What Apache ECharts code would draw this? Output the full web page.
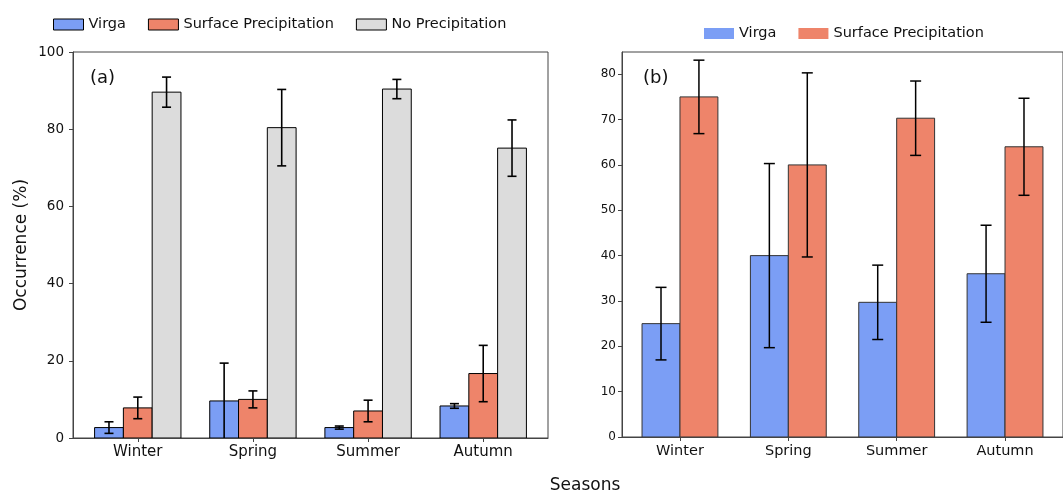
<!DOCTYPE html>
<html>
<head>
<meta charset="utf-8">
<script src="https://cdn.jsdelivr.net/npm/echarts@6/dist/echarts.min.js"></script>
<style>
  html, body { margin: 0; padding: 0; background: #fff; }
  #chart { width: 1063px; height: 493px; }
</style>
</head>
<body>
<div id="chart"></div>
<script>
// Seasonal occurrence of virga / surface precipitation
const seasons = ['Winter', 'Spring', 'Summer', 'Autumn'];

// Panel (a): share of all cloud cases (%)
const aVirga = [2.7, 9.6, 2.7, 8.3];
const aVirgaErr = [1.5, 9.8, 0.4, 0.6];
const aSurface = [7.8, 10.0, 7.0, 16.7];
const aSurfaceErr = [2.8, 2.2, 2.8, 7.3];
const aNone = [89.6, 80.4, 90.4, 75.1];
const aNoneErr = [3.9, 9.9, 2.5, 7.3];
const aTicks = [0, 20, 40, 60, 80, 100];

// Panel (b): share of precipitating cases (%)
const bVirga = [25.0, 40.0, 29.7, 36.0];
const bVirgaErr = [8.0, 20.3, 8.2, 10.7];
const bSurface = [75.0, 60.0, 70.3, 64.0];
const bSurfaceErr = [8.1, 20.3, 8.2, 10.7];
const bTicks = [0, 10, 20, 30, 40, 50, 60, 70, 80];

const C_VIRGA = '#7b9ef5';
const C_SURF = '#ee846a';
const C_NONE = '#dcdcdc';
const FONT = 'DejaVu Sans';

const catIdx = seasons.map((_, i) => i);

function barSeries(name, axis, values, offset, width, color, edge) {
  return {
    type: 'custom', name: name, xAxisIndex: axis, yAxisIndex: axis,
    clip: true, z: 2,
    itemStyle: { color: color },
    data: values.map((v, i) => [i + offset, v]),
    renderItem: function (params, api) {
      const x = api.value(0), y = api.value(1);
      const p0 = api.coord([x - width / 2, 0]);
      const p1 = api.coord([x + width / 2, y]);
      return {
        type: 'rect',
        shape: { x: p0[0], y: p1[1], width: p1[0] - p0[0], height: p0[1] - p1[1] },
        style: { fill: color, stroke: edge, lineWidth: 1 }
      };
    }
  };
}

function errSeries(axis, values, errs, offset, cap, lw) {
  return {
    type: 'custom', xAxisIndex: axis, yAxisIndex: axis,
    clip: true, z: 5, silent: true,
    data: values.map((v, i) => [i + offset, v - errs[i], v + errs[i]]),
    renderItem: function (params, api) {
      const x = api.value(0);
      const lo = api.coord([x, api.value(1)]);
      const hi = api.coord([x, api.value(2)]);
      const st = { stroke: '#000', lineWidth: lw };
      return {
        type: 'group',
        children: [
          { type: 'line', shape: { x1: lo[0], y1: lo[1], x2: hi[0], y2: hi[1] }, style: st },
          { type: 'line', shape: { x1: hi[0] - cap, y1: hi[1], x2: hi[0] + cap, y2: hi[1] }, style: st },
          { type: 'line', shape: { x1: lo[0] - cap, y1: lo[1], x2: lo[0] + cap, y2: lo[1] }, style: st }
        ]
      };
    }
  };
}

function xAxisDef(idx, min, max, fs) {
  return {
    type: 'value', gridIndex: idx, min: min, max: max,
    splitLine: { show: false },
    axisLine: { show: true, onZero: false, lineStyle: { color: '#444', width: 1 } },
    axisTick: { show: true, customValues: catIdx, length: 4, lineStyle: { color: '#444' } },
    axisLabel: {
      customValues: catIdx, margin: 7, color: '#111', fontFamily: FONT, fontSize: fs,
      formatter: v => seasons[Math.round(v)]
    }
  };
}

function yAxisDef(idx, max, ticks, fs, margin) {
  return {
    type: 'value', gridIndex: idx, min: 0, max: max,
    splitLine: { show: false },
    axisLine: { show: true, onZero: false, lineStyle: { color: '#444', width: 1 } },
    axisTick: { show: true, customValues: ticks, length: 4, lineStyle: { color: '#444' } },
    axisLabel: { customValues: ticks, margin: margin, color: '#111', fontFamily: FONT, fontSize: fs }
  };
}

const wA = 0.25, wB = 0.35;

const option = {
  animation: false,
  backgroundColor: '#fff',
  grid: [
    { left: 73, right: 515, top: 52, bottom: 55, show: true, borderColor: '#444', borderWidth: 1, backgroundColor: 'transparent' },
    { left: 622, right: -10, top: 52, bottom: 56, show: true, borderColor: '#444', borderWidth: 1, backgroundColor: 'transparent' }
  ],
  xAxis: [xAxisDef(0, -0.5625, 3.5625, 15), xAxisDef(1, -0.535, 3.535, 14.5)],
  yAxis: [yAxisDef(0, 100, aTicks, 13.5, 9), yAxisDef(1, 84.9, bTicks, 12, 6)],
  legend: [
    {
      left: 48, top: 12, itemWidth: 30, itemHeight: 11, itemGap: 22,
      textStyle: { fontFamily: FONT, fontSize: 14.5, color: '#111' },
      data: [
        { name: 'Virga', icon: 'rect', itemStyle: { color: C_VIRGA, borderColor: '#000', borderWidth: 1 } },
        { name: 'Surface Precipitation', icon: 'rect', itemStyle: { color: C_SURF, borderColor: '#000', borderWidth: 1 } },
        { name: 'No Precipitation', icon: 'rect', itemStyle: { color: C_NONE, borderColor: '#000', borderWidth: 1 } }
      ],
      selectedMode: false
    },
    {
      left: 699, top: 21, itemWidth: 30, itemHeight: 11, itemGap: 22,
      textStyle: { fontFamily: FONT, fontSize: 14.5, color: '#111' },
      data: [
        { name: 'Virga ', icon: 'rect', itemStyle: { color: C_VIRGA, borderWidth: 0 } },
        { name: 'Surface Precipitation ', icon: 'rect', itemStyle: { color: C_SURF, borderWidth: 0 } }
      ],
      formatter: n => n.trim(),
      selectedMode: false
    }
  ],
  graphic: [
    { type: 'text', left: 90, top: 69, style: { text: '(a)', font: '18px "DejaVu Sans"', fill: '#111' } },
    { type: 'text', left: 643, top: 69, style: { text: '(b)', font: '18px "DejaVu Sans"', fill: '#111' } },
    {
      type: 'text', x: 22, y: 245, rotation: Math.PI / 2,
      style: { text: 'Occurrence (%)', font: '17px "DejaVu Sans"', fill: '#111', align: 'center', verticalAlign: 'middle' }
    },
    {
      type: 'text', x: 585, y: 486,
      style: { text: 'Seasons', font: '17px "DejaVu Sans"', fill: '#111', align: 'center', verticalAlign: 'middle' }
    }
  ],
  series: [
    barSeries('Virga', 0, aVirga, -wA, wA, C_VIRGA, '#000'),
    barSeries('Surface Precipitation', 0, aSurface, 0, wA, C_SURF, '#000'),
    barSeries('No Precipitation', 0, aNone, wA, wA, C_NONE, '#000'),
    errSeries(0, aVirga, aVirgaErr, -wA, 4.5, 1.6),
    errSeries(0, aSurface, aSurfaceErr, 0, 4.5, 1.6),
    errSeries(0, aNone, aNoneErr, wA, 4.5, 1.6),
    barSeries('Virga ', 1, bVirga, -wB / 2, wB, C_VIRGA, '#333'),
    barSeries('Surface Precipitation ', 1, bSurface, wB / 2, wB, C_SURF, '#333'),
    errSeries(1, bVirga, bVirgaErr, -wB / 2, 5.5, 1.5),
    errSeries(1, bSurface, bSurfaceErr, wB / 2, 5.5, 1.5)
  ]
};

const chart = echarts.init(document.getElementById('chart'), null, { renderer: 'canvas' });
chart.setOption(option);
</script>
</body>
</html>
